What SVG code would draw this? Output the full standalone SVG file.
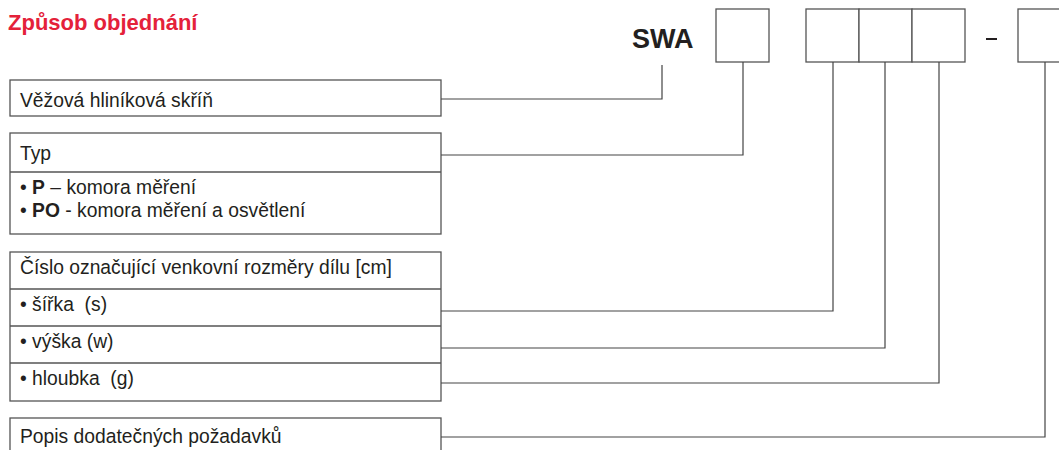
<svg xmlns="http://www.w3.org/2000/svg" width="1059" height="450" viewBox="0 0 1059 450">
<style>
.bx{fill:#fff;stroke:#555;stroke-width:1.3}
.ln{fill:none;stroke:#444;stroke-width:1.2}
.t{font-family:"Liberation Sans",Arial,sans-serif;font-size:19.3px;fill:#231f20;white-space:pre}
.b{font-weight:bold}
.title{font-family:"Liberation Sans",Arial,sans-serif;font-size:22px;font-weight:bold;fill:#e4213a}
.code{font-family:"Liberation Sans",Arial,sans-serif;font-size:27px;font-weight:bold;fill:#231f20}
</style>
<rect width="1059" height="450" fill="#fff"/>
<text class="title" x="8" y="30">Způsob objednání</text>
<g id="code">
<text class="code" x="632" y="48">SWA</text>
<rect class="bx" x="716" y="9" width="53" height="53"/>
<rect class="bx" x="806" y="9" width="53" height="53"/>
<rect class="bx" x="859" y="9" width="53" height="53"/>
<rect class="bx" x="912" y="9" width="53" height="53"/>
<line x1="986" y1="39" x2="997" y2="39" stroke="#231f20" stroke-width="2"/>
<rect class="bx" x="1018" y="9" width="53" height="53"/>
</g>
<g id="node-vezova">
<rect class="bx" x="10" y="80" width="431" height="36"/>
<text class="t" x="20" y="107">Věžová hliníková skříň</text>
</g>
<g id="node-typ">
<rect class="bx" x="10" y="133" width="431" height="101"/>
<line class="bx" x1="10" y1="172" x2="441" y2="172"/>
<text class="t" x="20" y="160">Typ</text>
<text class="t" x="20" y="194">• <tspan class="b">P</tspan> – komora měření</text>
<text class="t" x="20" y="217">• <tspan class="b">PO</tspan> - komora měření a osvětlení</text>
</g>
<g id="node-rozmery">
<rect class="bx" x="10" y="252" width="431" height="149"/>
<line class="bx" x1="10" y1="289" x2="441" y2="289"/>
<line class="bx" x1="10" y1="326" x2="441" y2="326"/>
<line class="bx" x1="10" y1="363" x2="441" y2="363"/>
<text class="t" x="20" y="274">Číslo označující venkovní rozměry dílu [cm]</text>
<text class="t" x="20" y="311">• šířka  (s)</text>
<text class="t" x="20" y="348">• výška (w)</text>
<text class="t" x="20" y="385">• hloubka  (g)</text>
</g>
<g id="node-popis">
<rect class="bx" x="10" y="418" width="431" height="60"/>
<text class="t" x="20" y="443">Popis dodatečných požadavků</text>
</g>
<g id="connectors">
<polyline class="ln" points="441,99 662,99 662,65"/>
<polyline class="ln" points="441,155 743,155 743,62"/>
<polyline class="ln" points="441,311 833,311 833,62"/>
<polyline class="ln" points="441,348 885,348 885,62"/>
<polyline class="ln" points="441,383 939,383 939,62"/>
<polyline class="ln" points="441,437 1045,437 1045,62"/>
</g>
</svg>
